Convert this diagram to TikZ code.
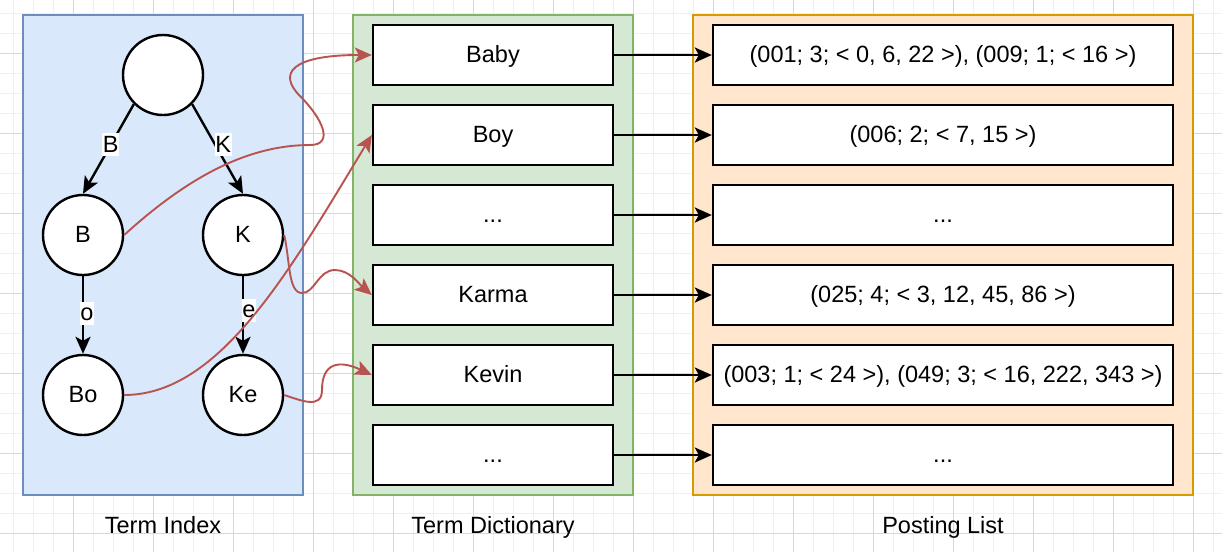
\documentclass[tikz,border=0pt]{standalone}
\usepackage{fontspec}
\setmainfont{Liberation Sans}
\usetikzlibrary{arrows.meta}
\definecolor{gridminor}{RGB}{240,240,240}
\definecolor{gridmajor}{RGB}{216,216,216}
\definecolor{bluefill}{HTML}{DAE8FC}
\definecolor{bluedraw}{HTML}{6C8EBF}
\definecolor{greenfill}{HTML}{D5E8D4}
\definecolor{greendraw}{HTML}{82B366}
\definecolor{orangefill}{HTML}{FFE6CC}
\definecolor{orangedraw}{HTML}{D79B00}
\definecolor{redline}{HTML}{B85450}
\begin{document}
\begin{tikzpicture}[x=1pt,y=-1pt,
  every node/.style={font=\fontsize{23.5}{28}\selectfont, text height=17pt, text depth=2pt, inner sep=0pt},
  container/.style={line width=1.8pt},
  entrybox/.style={draw=black, fill=white, line width=2.4pt, minimum height=60pt},
  trie/.style={circle, draw=black, fill=white, line width=2.4pt, minimum size=80pt},
  tipped/.style={-{Stealth[length=17pt,width=15pt,inset=4pt]}},
  treeedge/.style={tipped, line width=2.4pt, draw=black},
  linkedge/.style={tipped, line width=2.4pt, draw=black},
  ptr/.style={tipped, line width=1.9pt, draw=redline},
  elabel/.style={fill=white, inner xsep=0.5pt, inner ysep=2pt},
  caption/.style={anchor=base}
]
\useasboundingbox (0,0) rectangle (1222,552);
\fill[white] (0,0) rectangle (1222,552);
% grid
\foreach \k in {0,...,60} {\draw[gridminor, line width=1pt] ({13+20*\k},0) -- ({13+20*\k},552);}
\foreach \k in {0,...,26} {\draw[gridminor, line width=1pt] (0,{13+20*\k}) -- (1222,{13+20*\k});}
\foreach \k in {0,...,14} {\draw[gridmajor, line width=1pt] ({73+80*\k},0) -- ({73+80*\k},552);}
\foreach \k in {0,...,6} {\draw[gridmajor, line width=1pt] (0,{53+80*\k}) -- (1222,{53+80*\k});}

% containers
\node[container, draw=bluedraw, fill=bluefill, minimum width=280pt, minimum height=480pt] (ti) at (163,255) {};
\node[container, draw=greendraw, fill=greenfill, minimum width=280pt, minimum height=480pt] (td) at (493,255) {};
\node[container, draw=orangedraw, fill=orangefill, minimum width=500pt, minimum height=480pt] (pl) at (943,255) {};

% captions
\node[caption] (c1) at (163,533) {Term Index};
\node[caption] (c2) at (493,533) {Term Dictionary};
\node[caption] (c3) at (943,533) {Posting List};

% trie
\node[trie] (root) at (163,75) {};
\node[trie] (B) at (83,235) {B};
\node[trie] (K) at (243,235) {K};
\node[trie] (Bo) at (83,395) {Bo};
\node[trie] (Ke) at (243,395) {Ke};

\draw[treeedge] (root.south west) -- node[elabel, pos=0.455] (lB) {B} (B.north);
\draw[treeedge] (root.south east) -- node[elabel, pos=0.455, xshift=8pt] (lK) {K} (K.north);
\draw[treeedge] (B.south) -- node[elabel, pos=0.475, xshift=4pt] (lo) {o} (Bo.north);
\draw[treeedge] (K.south) -- node[elabel, pos=0.4375, xshift=6pt] (le) {e} (Ke.north);

% dictionary
\node[entrybox, minimum width=240pt] (d1) at (493,55) {Baby};
\node[entrybox, minimum width=240pt] (d2) at (493,135) {Boy};
\node[entrybox, minimum width=240pt] (d3) at (493,215) {...};
\node[entrybox, minimum width=240pt] (d4) at (493,295) {Karma};
\node[entrybox, minimum width=240pt] (d5) at (493,375) {Kevin};
\node[entrybox, minimum width=240pt] (d6) at (493,455) {...};

% postings
\node[entrybox, minimum width=460pt] (p1) at (943,55) {(001; 3; < 0, 6, 22 >), (009; 1; < 16 >)};
\node[entrybox, minimum width=460pt] (p2) at (943,135) {(006; 2; < 7, 15 >)};
\node[entrybox, minimum width=460pt] (p3) at (943,215) {...};
\node[entrybox, minimum width=460pt] (p4) at (943,295) {(025; 4; < 3, 12, 45, 86 >)};
\node[entrybox, minimum width=460pt] (p5) at (943,375) {(003; 1; < 24 >), (049; 3; < 16, 222, 343 >)};
\node[entrybox, minimum width=460pt] (p6) at (943,455) {...};

\foreach \i in {1,...,6} {\draw[linkedge] (d\i.east) -- (p\i.west);}

% trie to dictionary pointers
\draw[ptr] (B.east) .. controls (190,175) and (250,145) .. (310,145)
  .. controls (335,145) and (322,118) .. (300,96)
  .. controls (278,74) and (290,55) .. (d1.west);
\draw[ptr] (Bo.east) .. controls (220,395) and (290,270) .. (d2.west);
\draw[ptr] (K.east) .. controls (290,260) and (288,293) .. (302,293)
  .. controls (315,293) and (318,270) .. (335,270)
  .. controls (350,270) and (360,285) .. (d4.west);
\draw[ptr] (Ke.east) .. controls (300,400) and (322,410) .. (322,390)
  .. controls (322,362) and (340,360) .. (d5.west);
\end{tikzpicture}
\end{document}
